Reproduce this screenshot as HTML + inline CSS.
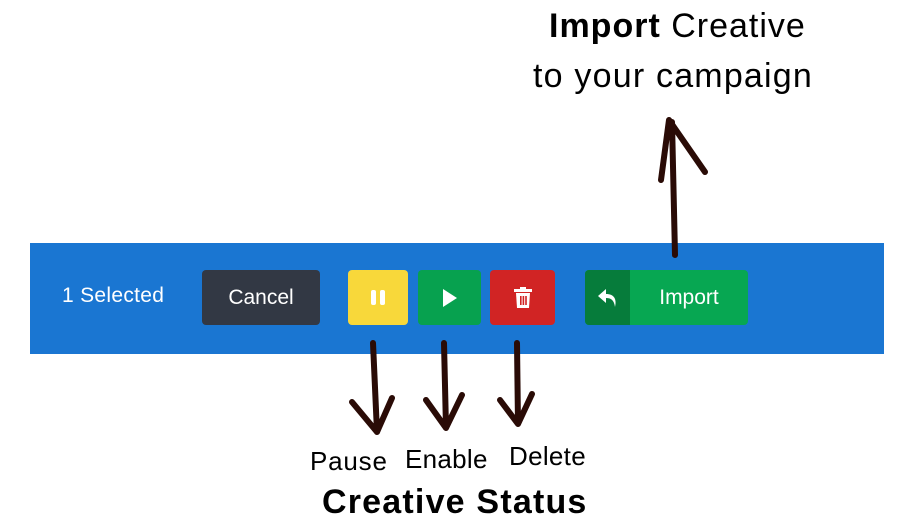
<!DOCTYPE html>
<html><head><style>
body{margin:0;width:917px;height:530px;background:#fff;position:relative;overflow:hidden;font-family:"Liberation Sans",sans-serif}
.a{position:absolute}
.bar{left:30px;top:243px;width:854px;height:111px;background:#1a76d2}
.btn{position:absolute;top:270px;height:55px;border-radius:4px}
.t{position:absolute;color:#000;white-space:nowrap}
</style></head><body>
<div class="a bar"></div>
<div class="t" style="left:62px;top:284px;color:#fff;font-size:21px;letter-spacing:0.3px">1 Selected</div>
<div class="btn" style="left:202px;width:118px;background:#323844;color:#fff;font-size:21px;line-height:55px;text-align:center">Cancel</div>
<div class="btn" style="left:348px;width:60px;background:#f8d83a"><div class="a" style="left:23px;top:20px;width:5px;height:15px;background:#fff;border-radius:2px"></div><div class="a" style="left:32px;top:20px;width:5px;height:15px;background:#fff;border-radius:2px"></div></div>
<div class="btn" style="left:418px;width:63px;background:#07a14f"><div class="a" style="left:25px;top:19px;width:0;height:0;border-left:14px solid #fff;border-top:9px solid transparent;border-bottom:9px solid transparent"></div></div>
<div class="btn" style="left:490px;width:65px;background:#d12424">
<svg class="a" style="left:23px;top:17px" width="20" height="22"><rect x="1" y="2" width="18" height="3" fill="#fff"/><rect x="7" y="0" width="6" height="3" fill="#fff"/><path d="M3 6 H17 L16 21 H4 Z" fill="#fff"/><rect x="7" y="9" width="1.6" height="9" fill="#d12424"/><rect x="9.6" y="9" width="1.6" height="9" fill="#d12424"/><rect x="12.2" y="9" width="1.6" height="9" fill="#d12424"/></svg></div>
<div class="btn" style="left:585px;width:163px;background:#07a752;overflow:hidden"><div class="a" style="left:0;top:0;width:45px;height:55px;background:#067c3b">
<svg class="a" style="left:12px;top:18px" width="22" height="20"><path d="M9 1 L1 8 L9 15 V10 C14 10 17 12 18 19 C20 11 17 6 9 6 Z" fill="#fff"/></svg></div><div class="a" style="left:45px;right:0;top:0;line-height:55px;text-align:center;color:#fff;font-size:21px">Import</div></div>
<svg class="a" style="left:0;top:0" width="917" height="530">
<g fill="none" stroke="#2a0b06" stroke-width="6" stroke-linecap="round" stroke-linejoin="round">
<path d="M373 343 L377 432 M352 402 L377 432 L392 398"/>
<path d="M444 343 L446 428 M426 400 L446 428 L462 395"/>
<path d="M517 343 L518 424 M500 400 L518 424 L532 394"/>
<path d="M675 255 L672 122 M661 180 L669 120 L705 172"/>
</g></svg>
<div class="t" style="left:549px;top:7px;font-size:34px;letter-spacing:1px"><b>Import</b> Creative</div>
<div class="t" style="left:533px;top:57px;font-size:34px;letter-spacing:1.2px">to your campaign</div>
<div class="t" style="left:310px;top:446px;font-size:26px;letter-spacing:0.8px">Pause</div>
<div class="t" style="left:405px;top:444px;font-size:26px;letter-spacing:0.3px">Enable</div>
<div class="t" style="left:509px;top:441px;font-size:26px;letter-spacing:0.3px">Delete</div>
<div class="t" style="left:322px;top:483px;font-size:34px;font-weight:bold;letter-spacing:1.2px">Creative Status</div>
</body></html>
